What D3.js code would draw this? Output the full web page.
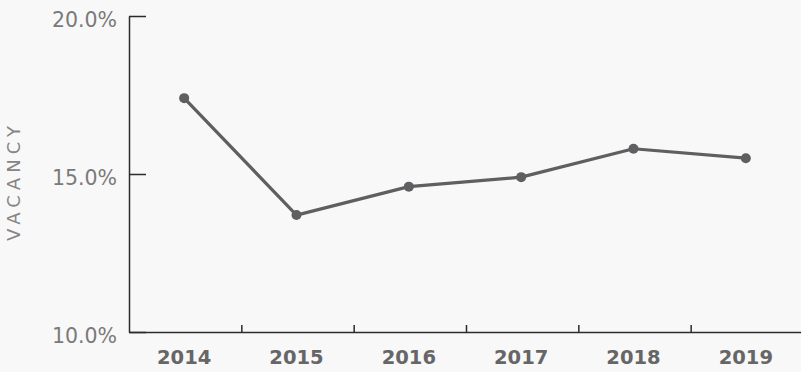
<!DOCTYPE html>
<html>
<head>
<meta charset="utf-8">
<script src="https://cdn.jsdelivr.net/npm/d3@7"></script>
<style>
  html, body { margin: 0; padding: 0; background: #f8f8f8; }
  svg { display: block; }
</style>
</head>
<body>
<svg id="chart"></svg>
<script>
let WIDTH = 801;
let HEIGHT = 372;

// data
let years = ['2014', '2015', '2016', '2017', '2018', '2019'];
let vacancy = [17.4, 13.7, 14.6, 14.9, 15.8, 15.5];
let yTicks = [10, 15, 20];

let plotLeft = 129, plotTop = 16, plotBottom = 332, plotRight = 803;

let svg = d3.select('#chart')
  .attr('width', WIDTH)
  .attr('height', HEIGHT);

svg.append('rect')
  .attr('width', WIDTH).attr('height', HEIGHT)
  .attr('fill', '#f8f8f8');

let xScale = d3.scaleBand().domain(years).range([plotLeft, plotRight]);
let yScale = d3.scaleLinear().domain([10, 20]).range([plotBottom, plotTop]);

// boundaries between the year bands
let edgeScale = d3.scaleLinear().domain([0, years.length]).range([plotLeft, plotRight]);

// y axis: line + short inner ticks
let leftAxis = d3.axisRight(yScale)
  .tickValues(yTicks)
  .tickSize(17)
  .tickSizeOuter(0)
  .tickFormat('');
let gy = svg.append('g')
  .attr('transform', 'translate(' + plotLeft + ',0)')
  .call(leftAxis);
gy.selectAll('path, line').attr('stroke', '#2b2b2b').attr('stroke-width', 1.5);

// y labels
svg.append('g').selectAll('text')
  .data(yTicks)
  .join('text')
  .attr('x', 117)
  .attr('y', d => yScale(d) + 11)
  .attr('text-anchor', 'end')
  .attr('font-family', 'DejaVu Sans, sans-serif')
  .attr('font-size', 20.5)
  .attr('fill', '#7a7a7a')
  .text(d => d.toFixed(1) + '%');

// x axis: line + upward ticks at band edges
let bottomAxis = d3.axisBottom(edgeScale)
  .tickValues(d3.range(1, years.length))
  .tickSize(-7)
  .tickSizeOuter(0)
  .tickFormat('');
let gx = svg.append('g')
  .attr('transform', 'translate(0,' + plotBottom + ')')
  .call(bottomAxis);
gx.selectAll('path, line').attr('stroke', '#2b2b2b').attr('stroke-width', 1.5);

// year labels
let labelAxis = d3.axisBottom(xScale).tickSize(0).tickPadding(0);
let gl = svg.append('g')
  .attr('transform', 'translate(0,' + plotBottom + ')')
  .call(labelAxis);
gl.select('.domain').remove();
gl.selectAll('text')
  .attr('x', -1)
  .attr('y', 32)
  .attr('dy', 0)
  .attr('font-family', 'DejaVu Sans, sans-serif')
  .attr('font-weight', 'bold')
  .attr('font-size', 19.5)
  .attr('fill', '#666666');

// axis title
svg.append('text')
  .attr('transform', 'translate(20,181) rotate(-90)')
  .attr('text-anchor', 'middle')
  .attr('font-family', 'DejaVu Sans, sans-serif')
  .attr('font-size', 18)
  .attr('letter-spacing', 5)
  .attr('fill', '#858585')
  .text('VACANCY');

let line = d3.line()
  .x((d, i) => xScale(years[i]) + xScale.bandwidth() / 2 - 1)
  .y(d => yScale(d));

svg.append('path')
  .datum(vacancy)
  .attr('d', line)
  .attr('fill', 'none')
  .attr('stroke', '#5f5f61')
  .attr('stroke-width', 3.2)
  .attr('stroke-linejoin', 'round');

svg.append('g').selectAll('circle')
  .data(vacancy)
  .join('circle')
  .attr('cx', (d, i) => xScale(years[i]) + xScale.bandwidth() / 2 - 1)
  .attr('cy', d => yScale(d))
  .attr('r', 5)
  .attr('fill', '#5f5f61');
</script>
</body>
</html>
